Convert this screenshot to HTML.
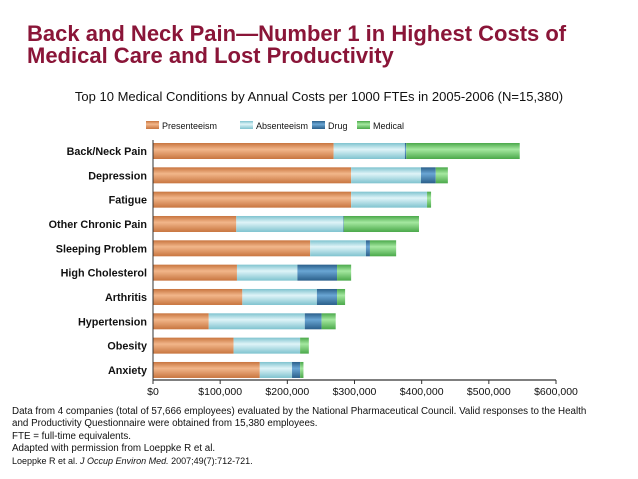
<!DOCTYPE html>
<html><head><meta charset="utf-8"><style>
body{margin:0;width:638px;height:479px;background:#fff;overflow:hidden;font-family:"Liberation Sans",Arial,sans-serif;}
#title{position:absolute;left:27px;top:23px;font-size:22px;font-weight:bold;color:#8a1538;line-height:22px;white-space:nowrap;}
#sub{position:absolute;left:0;width:638px;top:89px;text-align:center;font-size:13px;color:#111;}
#foot{position:absolute;left:12px;top:406px;font-size:9.8px;line-height:12.3px;color:#111;white-space:nowrap;}
</style></head><body>
<div id="title">Back and Neck Pain—Number 1 in Highest Costs of<br>Medical Care and Lost Productivity</div>
<div id="sub">Top 10 Medical Conditions by Annual Costs per 1000 FTEs in 2005-2006 (N=15,380)</div>
<svg id="chart" width="638" height="479" style="position:absolute;left:0;top:0" xmlns="http://www.w3.org/2000/svg"></svg>
<div id="foot">Data from 4 companies (total of 57,666 employees) evaluated by the National Pharmaceutical Council. Valid responses to the Health<br>and Productivity Questionnaire were obtained from 15,380 employees.<br>FTE = full-time equivalents.<br>Adapted with permission from Loeppke R et al.<br><span style="font-size:9px">Loeppke R et al. <i>J Occup Environ Med.</i> 2007;49(7):712-721.</span></div>
<script>
const categories=["Back/Neck Pain","Depression","Fatigue","Other Chronic Pain","Sleeping Problem","High Cholesterol","Arthritis","Hypertension","Obesity","Anxiety"];
const presenteeism=[269000,295000,295000,124000,234000,125000,133000,83000,120000,159000];
const absenteeism=[106000,104000,113000,159000,83000,90000,111000,143000,99000,48000];
const drug=[2000,22000,0,1000,6000,59000,30000,25000,0,12000];
const medical=[169000,18000,6000,112000,39000,21000,12000,21000,13000,5000];
const ticks=[0,100000,200000,300000,400000,500000,600000];
const tickLabels=["$0","$100,000","$200,000","$300,000","$400,000","$500,000","$600,000"];
const seriesNames=["Presenteeism","Absenteeism","Drug","Medical"];
const NS="http://www.w3.org/2000/svg";
const svg=document.getElementById('chart');
const x0=153,x1=556,maxV=600000;
const xs=v=>x0+(x1-x0)*v/maxV;
const y0=151,step=24.33,bh=16;
const ys=i=>y0+i*step;
function mk(t,a){const e=document.createElementNS(NS,t);for(const k in a)e.setAttribute(k,a[k]);svg.appendChild(e);return e;}
const defs=mk('defs',{});
const cols=[["#c8753f","#f2b68a","#c8753f"],["#7fc3cf","#dff4f8","#7fc3cf"],["#2a5f8a","#6aa6d4","#2a5f8a"],["#4aa84a","#a5e8a0","#4aa84a"]];
cols.forEach((c,i)=>{const g=document.createElementNS(NS,'linearGradient');g.setAttribute('id','g'+i);g.setAttribute('x1','0');g.setAttribute('y1','0');g.setAttribute('x2','0');g.setAttribute('y2','1');
[[0,c[0]],[0.4,c[1]],[1,c[2]]].forEach(s=>{const st=document.createElementNS(NS,'stop');st.setAttribute('offset',s[0]);st.setAttribute('stop-color',s[1]);g.appendChild(st);});defs.appendChild(g);});
const series=[presenteeism,absenteeism,drug,medical];
categories.forEach((c,i)=>{
 const t=mk('text',{x:147,y:ys(i)+4,'text-anchor':'end','font-size':'10.8','font-weight':'bold',fill:'#111'});
 t.textContent=c;
 
 
 let acc=0;
 series.forEach((s,k)=>{
  const v=s[i];if(v<=0)return;
  const r=mk('rect',{x:xs(acc),y:ys(i)-bh/2,width:xs(acc+v)-xs(acc),height:bh,fill:'url(#g'+k+')'});
  
  
  acc+=v;
 });
});
const ax=mk('line',{x1:x0,y1:140,x2:x0,y2:380,stroke:'#333','stroke-width':1});


const xa=mk('line',{x1:x0,y1:380,x2:x1,y2:380,stroke:'#333','stroke-width':1.2});


ticks.forEach((v,i)=>{
 mk('line',{x1:xs(v),y1:380,x2:xs(v),y2:384,stroke:'#333'});
 const t=mk('text',{x:xs(v),y:395,'text-anchor':'middle','font-size':'10.5',fill:'#111'});
 t.textContent=tickLabels[i];
 
 
});
const lx=[146,240,312,357];
seriesNames.forEach((n,k)=>{
 const g=mk('g',{});
 
 
 const r=document.createElementNS(NS,'rect');r.setAttribute('x',lx[k]);r.setAttribute('y',121);r.setAttribute('width',13);r.setAttribute('height',8);r.setAttribute('fill','url(#g'+k+')');g.appendChild(r);
 const t=document.createElementNS(NS,'text');t.setAttribute('x',lx[k]+16);t.setAttribute('y',129);t.setAttribute('font-size','9');t.setAttribute('fill','#111');t.textContent=n;g.appendChild(t);
});
</script>
</body></html>
